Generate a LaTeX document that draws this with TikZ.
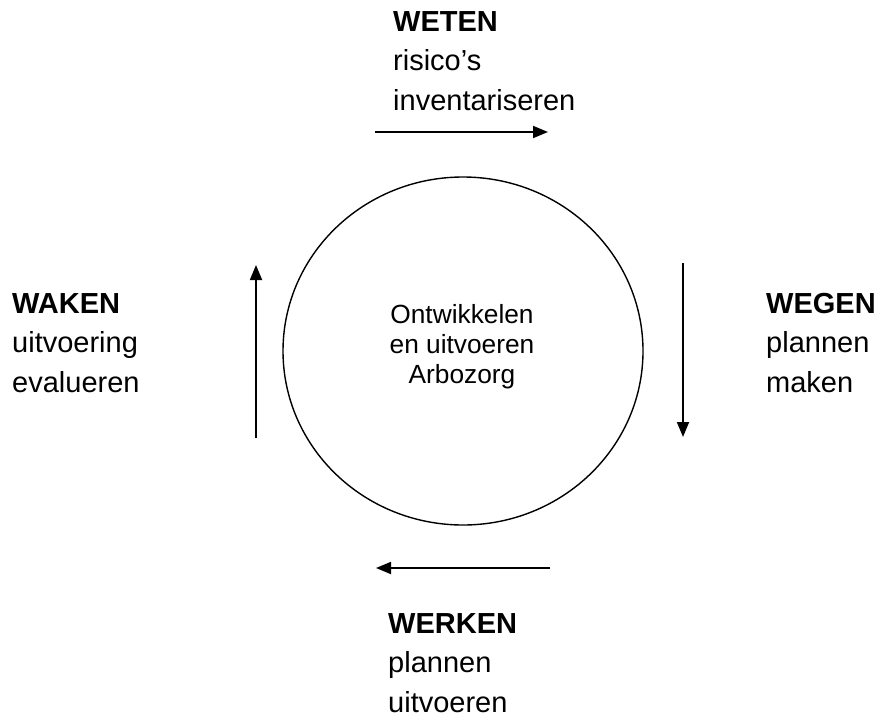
\documentclass[tikz,border=0pt]{standalone}
\usepackage{fontspec}
\setmainfont{Liberation Sans}
\usetikzlibrary{arrows.meta}
\tikzset{
  side/.style={inner sep=0pt, anchor=base west, align=left,
    font=\fontsize{29}{39.5}\selectfont},
  center/.style={inner sep=0pt, anchor=base, align=center,
    font=\fontsize{26.3}{30}\selectfont},
  flow/.style={line width=1.8pt, -{Triangle[length=15pt,width=12pt]}},
}
\begin{document}
\begin{tikzpicture}[x=1pt,y=-1pt]
\useasboundingbox (0,0) rectangle (880,720);
\draw[line width=1.4pt] (463,351) ellipse [x radius=180, y radius=174];
\node[center] (mid) at (462,383) {Ontwikkelen\\en uitvoeren\\Arbozorg};
\node[side] (weten) at (393,110) {\textbf{WETEN}\\risico’s\\inventariseren};
\node[side] (wegen) at (766,392) {\textbf{WEGEN}\\plannen\\maken};
\node[side] (werken) at (388,712) {\textbf{WERKEN}\\plannen\\uitvoeren};
\node[side] (waken) at (12,392) {\textbf{WAKEN}\\uitvoering\\evalueren};
\coordinate (t1) at (375,132); \coordinate (t2) at (548,132);
\coordinate (r1) at (683,263); \coordinate (r2) at (683,437);
\coordinate (b1) at (550,568); \coordinate (b2) at (376,568);
\coordinate (l1) at (256,438); \coordinate (l2) at (256,265);
\draw[flow] (t1) -- (t2);
\draw[flow] (r1) -- (r2);
\draw[flow] (b1) -- (b2);
\draw[flow] (l1) -- (l2);
\end{tikzpicture}
\end{document}
